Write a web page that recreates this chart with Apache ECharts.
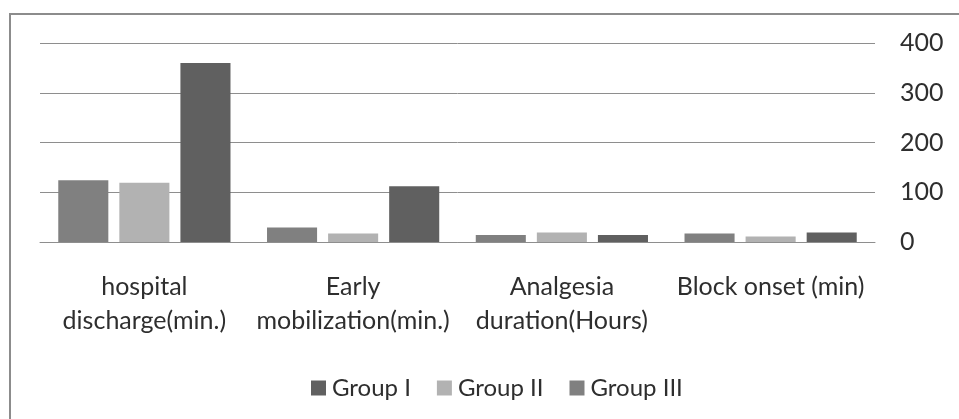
<!DOCTYPE html>
<html><head><meta charset="utf-8">
<script src="https://cdn.jsdelivr.net/npm/echarts@6/dist/echarts.min.js"></script>
<style>html,body{margin:0;padding:0;background:#fff}#c{width:959px;height:419px}</style>
</head><body><div id="c"></div>
<script>
const categories = ['hospital\ndischarge(min.)', 'Early\nmobilization(min.)', 'Analgesia\nduration(Hours)', 'Block onset (min)'];
const groupI = [360, 112, 14, 19];
const groupII = [119, 17, 19, 11];
const groupIII = [124, 29, 14, 17];
const yTicks = [0, 100, 200, 300, 400];

const font = 'Lato';
const txt = '#2e2e2e';
const chart = echarts.init(document.getElementById('c'));
chart.setOption({
  animation: false,
  backgroundColor: '#fff',
  graphic: [{type: 'rect', shape: {x: 10, y: 14, width: 1000, height: 500}, style: {fill: 'none', stroke: '#8c8c8c', lineWidth: 2}}],
  grid: {left: 40, right: 84, top: 43, bottom: 177, containLabel: false},
  legend: {
    data: ['Group I', 'Group II', 'Group III'],
    left: 306, top: 371, itemWidth: 15, itemHeight: 15, itemGap: 26,
    icon: 'rect',
    textStyle: {fontFamily: font, fontSize: 24, color: txt, padding: [0, 0, 0, 1]}
  },
  xAxis: {
    type: 'category', data: categories,
    axisLine: {lineStyle: {color: '#8e8e8e', width: 1}},
    axisTick: {show: false},
    axisLabel: {fontFamily: font, fontSize: 25, color: txt, lineHeight: 34, margin: 28, interval: 0, align: 'center'}
  },
  yAxis: {
    type: 'value', position: 'right', min: yTicks[0], max: yTicks[yTicks.length - 1], interval: 100,
    axisLine: {show: false}, axisTick: {show: false},
    splitLine: {lineStyle: {color: '#8e8e8e', width: 1}},
    axisLabel: {fontFamily: font, fontSize: 25, color: txt, margin: 25, align: 'left'}
  },
  series: [
    {name: 'Group III', type: 'bar', data: groupIII, itemStyle: {color: '#808080'}, barGap: '22%', barCategoryGap: '17.5%'},
    {name: 'Group II', type: 'bar', data: groupII, itemStyle: {color: '#b2b2b2'}, barGap: '22%', barCategoryGap: '17.5%'},
    {name: 'Group I', type: 'bar', data: groupI, itemStyle: {color: '#606060'}, barGap: '22%', barCategoryGap: '17.5%'}
  ]
});
</script></body></html>
